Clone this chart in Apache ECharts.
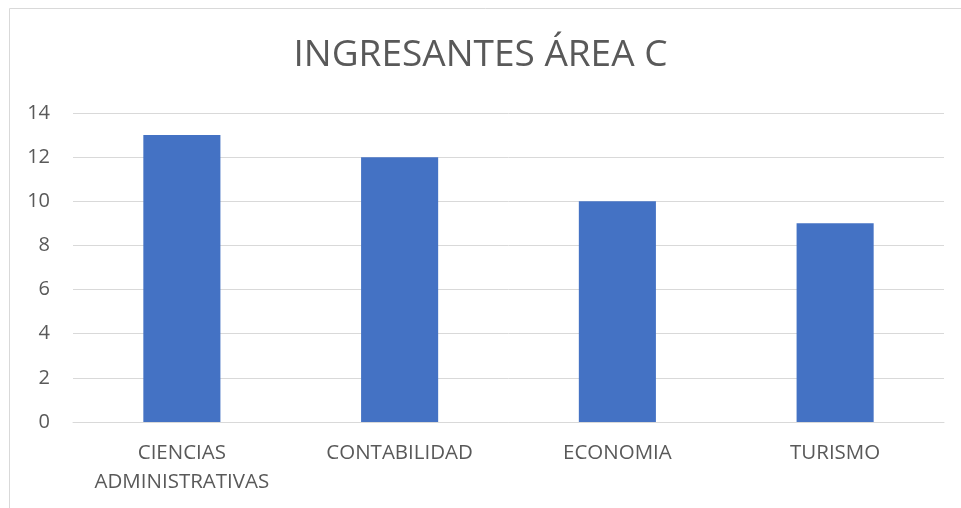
<!DOCTYPE html>
<html>
<head>
<meta charset="utf-8">
<script src="https://cdn.jsdelivr.net/npm/echarts@6/dist/echarts.min.js"></script>
<style>
  html, body { margin: 0; padding: 0; background: #fff; }
  #chart { width: 961px; height: 508px; }
</style>
</head>
<body>
<div id="chart"></div>
<script>
// datos del gráfico
const titulo = 'INGRESANTES ÁREA C';
const carreras = ['CIENCIAS\nADMINISTRATIVAS', 'CONTABILIDAD', 'ECONOMIA', 'TURISMO'];
const ingresantes = [13, 12, 10, 9];

const chart = echarts.init(document.getElementById('chart'));
const font = '"Open Sans", sans-serif';

chart.setOption({
  animation: false,
  backgroundColor: '#fff',
  title: {
    text: titulo,
    left: 'center',
    top: 32,
    textStyle: { fontFamily: font, fontSize: 37, fontWeight: 'normal', color: '#595959' },
  },
  graphic: [{
    type: 'rect',
    shape: { x: 9.5, y: 8.5, width: 1000, height: 1000 },
    style: { fill: 'none', stroke: '#d9d9d9', lineWidth: 1 },
    silent: true,
  }],
  grid: { left: 73, right: 17, top: 113, bottom: 86 },
  xAxis: {
    type: 'category',
    data: carreras,
    axisTick: { show: false },
    axisLine: { lineStyle: { color: '#d9d9d9', width: 1 } },
    axisLabel: {
      interval: 0,
      hideOverlap: false,
      fontFamily: font,
      fontSize: 20.5,
      color: '#595959',
      margin: 17,
      lineHeight: 29,
    },
  },
  yAxis: {
    type: 'value',
    min: 0,
    max: 14,
    interval: 2,
    axisLabel: { fontFamily: font, fontSize: 20, color: '#595959', margin: 23 },
    splitLine: { lineStyle: { color: '#d9d9d9', width: 1 } },
  },
  series: [{
    type: 'bar',
    data: ingresantes,
    barWidth: '35.4%',
    itemStyle: { color: '#4472c4' },
  }],
});
</script>
</body>
</html>
